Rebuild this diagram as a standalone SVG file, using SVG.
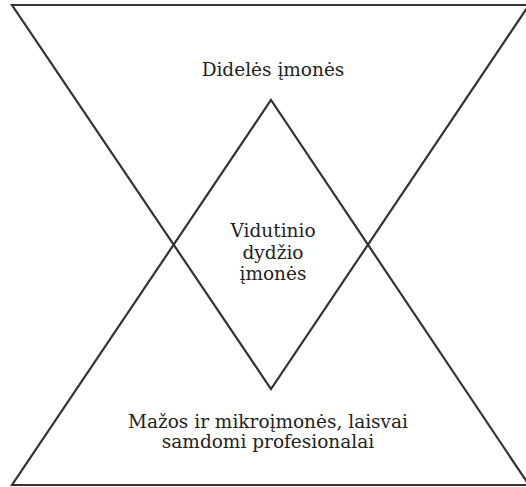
<svg xmlns="http://www.w3.org/2000/svg" width="526" height="487" viewBox="0 0 526 487">
<style>
.tri{fill:none;stroke:#333333;stroke-width:2.2;stroke-linejoin:miter}
.lbl{font-family:'DejaVu Serif','Liberation Serif',serif;font-size:18.5px;fill:#222222;text-anchor:middle}
</style>
<rect width="526" height="487" fill="#ffffff"/>
<g id="connectors"></g>
<g id="top-triangle">
<polygon class="tri" points="12,5 529,5 271,389"/>
<text class="lbl" x="273" y="76">Didelės įmonės</text>
</g>
<g id="bottom-triangle">
<polygon class="tri" points="12,485 529,485 271,100"/>
<text class="lbl" x="268" y="428">Mažos ir mikroįmonės, laisvai</text>
<text class="lbl" x="268" y="448">samdomi profesionalai</text>
</g>
<g id="middle-diamond">
<text class="lbl" x="273" y="237">Vidutinio</text>
<text class="lbl" x="273" y="259">dydžio</text>
<text class="lbl" x="273" y="280">įmonės</text>
</g>
</svg>
